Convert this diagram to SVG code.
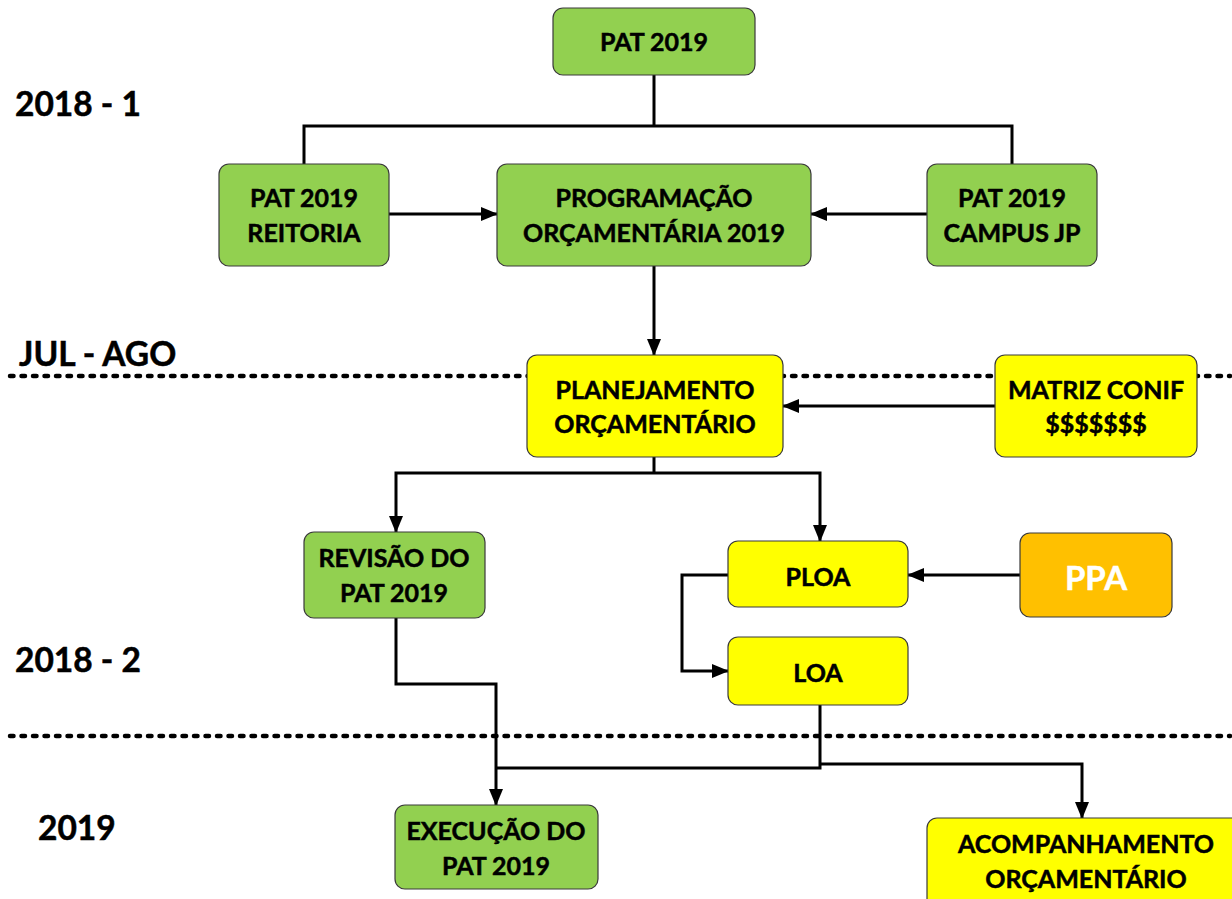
<svg xmlns="http://www.w3.org/2000/svg" width="1232" height="899" viewBox="0 0 1232 899">
<style>
.box{stroke:#3a3a3a;stroke-width:1.2}
.g{fill:#92D050}
.y{fill:#FFFF00}
.o{fill:#FFC000}
.t{font-family:Lato,"Open Sans","Liberation Sans",sans-serif;font-weight:bold;font-size:25px;fill:#000;stroke:#000;stroke-width:0.5;text-anchor:middle}
.lbl{font-family:Lato,"Open Sans","Liberation Sans",sans-serif;font-weight:bold;font-size:33.5px;fill:#000;stroke:#000;stroke-width:0.5}
.c{fill:none;stroke:#000;stroke-width:3}
.dot{stroke:#000;stroke-width:4.5;stroke-dasharray:3.5 8;stroke-linecap:round;fill:none}
</style>
<defs>
<marker id="ah" markerUnits="userSpaceOnUse" markerWidth="17" markerHeight="14" refX="16" refY="7" orient="auto">
<path d="M0,0 L17,7 L0,14 z" fill="#000"/>
</marker>
</defs>
<rect width="1232" height="899" fill="#fff"/>
<g id="dividers">
<line class="dot" x1="10" y1="376" x2="1230" y2="376"/>
<line class="dot" x1="10" y1="736" x2="1230" y2="736"/>
</g>
<g id="labels">
<text class="lbl" x="15" y="116">2018 - 1</text>
<text class="lbl" x="19" y="366">JUL - AGO</text>
<text class="lbl" x="15" y="672">2018 - 2</text>
<text class="lbl" x="38" y="840">2019</text>
</g>
<g id="connectors">
<path class="c" d="M654,75 V126"/>
<path class="c" d="M304,164 V126 H1012 V164"/>
<path class="c" d="M389,214 H497" marker-end="url(#ah)"/>
<path class="c" d="M927,214 H811" marker-end="url(#ah)"/>
<path class="c" d="M654,266 V355" marker-end="url(#ah)"/>
<path class="c" d="M995,406 H783" marker-end="url(#ah)"/>
<path class="c" d="M654,457 V473"/>
<path class="c" d="M654,473 H396 V532" marker-end="url(#ah)"/>
<path class="c" d="M654,473 H820 V541" marker-end="url(#ah)"/>
<path class="c" d="M1020,575 H908" marker-end="url(#ah)"/>
<path class="c" d="M728,575 H682 V671 H728" marker-end="url(#ah)"/>
<path class="c" d="M396,618 V684 H496 V805" marker-end="url(#ah)"/>
<path class="c" d="M820,705 V768 H496"/>
<path class="c" d="M820,764 H1082 V818" marker-end="url(#ah)"/>
</g>
<g id="pat2019">
<rect class="box g" x="553" y="8" width="202" height="67" rx="10"/>
<text class="t" x="654" y="51">PAT 2019</text>
</g>
<g id="reitoria">
<rect class="box g" x="219" y="164" width="170" height="102" rx="10"/>
<text class="t" x="304" y="207">PAT 2019</text>
<text class="t" x="304" y="242">REITORIA</text>
</g>
<g id="programacao">
<rect class="box g" x="497" y="164" width="314" height="102" rx="10"/>
<text class="t" x="654" y="207">PROGRAMAÇÃO</text>
<text class="t" x="654" y="242">ORÇAMENTÁRIA 2019</text>
</g>
<g id="campus">
<rect class="box g" x="927" y="164" width="170" height="102" rx="10"/>
<text class="t" x="1012" y="207">PAT 2019</text>
<text class="t" x="1012" y="242">CAMPUS JP</text>
</g>
<g id="planejamento">
<rect class="box y" x="527" y="355" width="256" height="102" rx="10"/>
<text class="t" x="655" y="399">PLANEJAMENTO</text>
<text class="t" x="655" y="433">ORÇAMENTÁRIO</text>
</g>
<g id="matriz">
<rect class="box y" x="995" y="355" width="202" height="102" rx="10"/>
<text class="t" x="1096" y="399">MATRIZ CONIF</text>
<text class="t" x="1096" y="433">$$$$$$$</text>
</g>
<g id="revisao">
<rect class="box g" x="304" y="532" width="181" height="86" rx="10"/>
<text class="t" x="394" y="567">REVISÃO DO</text>
<text class="t" x="394" y="602">PAT 2019</text>
</g>
<g id="ploa">
<rect class="box y" x="728" y="541" width="180" height="66" rx="10"/>
<text class="t" x="818" y="586">PLOA</text>
</g>
<g id="ppa">
<rect class="box o" x="1020" y="533" width="152" height="84" rx="10"/>
<text class="t" x="1096" y="590" style="font-size:33px;fill:#fff;stroke:#fff">PPA</text>
</g>
<g id="loa">
<rect class="box y" x="728" y="637" width="180" height="68" rx="10"/>
<text class="t" x="818" y="682">LOA</text>
</g>
<g id="execucao">
<rect class="box g" x="395" y="805" width="203" height="84" rx="10"/>
<text class="t" x="496" y="840">EXECUÇÃO DO</text>
<text class="t" x="496" y="875">PAT 2019</text>
</g>
<g id="acompanhamento">
<rect class="box y" x="927" y="818" width="316" height="100" rx="10"/>
<text class="t" x="1086" y="853">ACOMPANHAMENTO</text>
<text class="t" x="1086" y="888">ORÇAMENTÁRIO</text>
</g>
</svg>
